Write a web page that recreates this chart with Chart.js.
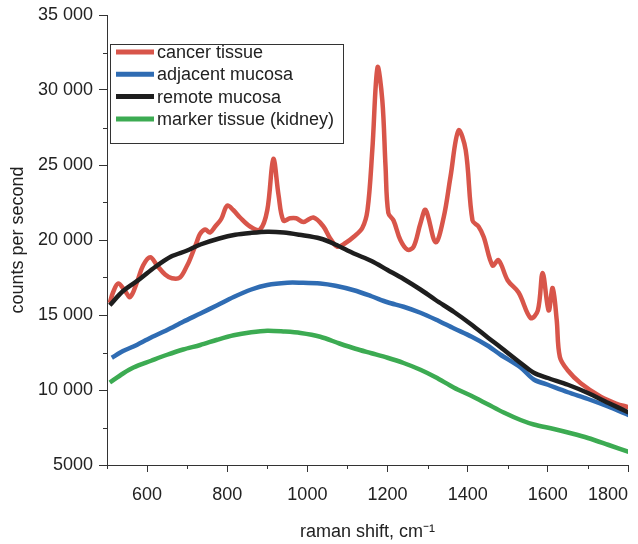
<!DOCTYPE html>
<html>
<head>
<meta charset="utf-8">
<script src="https://cdn.jsdelivr.net/npm/chart.js@4/dist/chart.umd.min.js"></script>
<style>
  html, body { margin: 0; padding: 0; background: #ffffff; }
  #wrap { width: 638px; height: 544px; position: relative; }
</style>
</head>
<body>
<div id="wrap"><canvas id="c" width="638" height="544"></canvas></div>
<script>
// ---- data ----
const seriesNames = ['cancer tissue', 'adjacent mucosa', 'remote mucosa', 'marker tissue (kidney)'];
const seriesColors = ['#d8554a', '#2f6cb3', '#1e1e1e', '#3cab52'];

const cancerX = [507, 515, 528, 545, 558, 575, 590, 608, 625, 645, 662, 682, 700, 707, 723, 732, 745, 757, 770, 785, 800, 815, 832, 857, 882, 900, 915, 928, 940, 957, 972, 990, 1015, 1040, 1057, 1075, 1095, 1115, 1137, 1150, 1162, 1175, 1187, 1195, 1202, 1215, 1232, 1250, 1265, 1282, 1295, 1320, 1340, 1357, 1377, 1395, 1412, 1427, 1440, 1462, 1477, 1500, 1527, 1557, 1575, 1587, 1602, 1612, 1622, 1630, 1650, 1682, 1732, 1770, 1802];
const cancerY = [15800, 16500, 17100, 16600, 16200, 17200, 18300, 18850, 18300, 17700, 17450, 17500, 18300, 18700, 19800, 20400, 20700, 20500, 20900, 21400, 22300, 22000, 21500, 20900, 20700, 22000, 25400, 23000, 21300, 21450, 21450, 21200, 21500, 20900, 20100, 19550, 19800, 20200, 20800, 22000, 26000, 31500, 29300, 24900, 21800, 21300, 20000, 19350, 19550, 21100, 22000, 19850, 21500, 24200, 27300, 26000, 21300, 20900, 20200, 18300, 18650, 17300, 16500, 14800, 15300, 17800, 15300, 16800, 14700, 12200, 11300, 10450, 9550, 9100, 8850];

const adjacentX = [512, 540, 566, 610, 650, 690, 733, 775, 816, 860, 900, 950, 983, 1032, 1070, 1116, 1160, 1200, 1240, 1282, 1320, 1366, 1410, 1450, 1482, 1532, 1565, 1600, 1650, 1700, 1750, 1802];
const adjacentY = [12150, 12600, 12900, 13500, 14000, 14550, 15100, 15650, 16200, 16700, 17000, 17150, 17150, 17100, 16950, 16650, 16250, 15850, 15550, 15150, 14700, 14100, 13550, 12950, 12350, 11500, 10700, 10350, 9850, 9400, 8900, 8330];

const remoteX = [507, 540, 582, 620, 660, 700, 733, 780, 820, 858, 900, 941, 980, 1032, 1070, 1116, 1160, 1200, 1240, 1282, 1320, 1366, 1410, 1450, 1482, 1532, 1565, 1600, 1650, 1700, 1750, 1802];
const remoteY = [15650, 16600, 17400, 18200, 18900, 19300, 19700, 20100, 20350, 20470, 20550, 20500, 20350, 20100, 19700, 19100, 18600, 18000, 17400, 16700, 16000, 15200, 14350, 13500, 12850, 11800, 11150, 10800, 10350, 9800, 9150, 8500];

const markerX = [507, 540, 566, 610, 650, 690, 733, 775, 816, 860, 900, 940, 983, 1032, 1080, 1120, 1160, 1200, 1240, 1282, 1320, 1366, 1410, 1450, 1490, 1532, 1565, 1615, 1660, 1700, 1750, 1802];
const markerY = [10500, 11100, 11500, 11950, 12350, 12700, 13000, 13350, 13650, 13850, 13950, 13900, 13800, 13550, 13100, 12750, 12450, 12150, 11800, 11350, 10850, 10150, 9600, 9050, 8500, 8000, 7700, 7400, 7100, 6800, 6350, 5870];

const xTickLabels = [600, 800, 1000, 1200, 1400, 1600, 1800];
const xMinorTicks = [500, 700, 900, 1100, 1300, 1500, 1700];
const yTickValues = [5000, 10000, 15000, 20000, 25000, 30000, 35000];
const yTickText = ['5000', '10 000', '15 000', '20 000', '25 000', '30 000', '35 000'];
const yMinorTicks = [7500, 12500, 17500, 22500, 27500, 32500];

// ---- build chart ----
function pts(xs, ys) { return xs.map((x, i) => ({ x: x, y: ys[i] })); }
const allX = [cancerX, adjacentX, remoteX, markerX];
const allY = [cancerY, adjacentY, remoteY, markerY];
const drawOrder = [1, 2, 0, 3];
const tensions = [0.35, 0.3, 0.3, 0.3];

const FONT = '"Liberation Sans", Arial, Helvetica, sans-serif';
const AXIS = '#333333';
const TEXT = '#222222';

const datasets = seriesNames.map((n, i) => ({
  label: n,
  data: pts(allX[i], allY[i]),
  borderColor: seriesColors[i],
  backgroundColor: seriesColors[i],
  borderWidth: 4.5,
  pointRadius: 0,
  tension: tensions[i],
  cubicInterpolationMode: 'default',
  fill: false,
  order: drawOrder[i]
}));

const minorTickPlugin = {
  id: 'minorTicks',
  afterDraw(chart) {
    const ctx = chart.ctx;
    const xs = chart.scales.x, ys = chart.scales.y;
    ctx.save();
    ctx.strokeStyle = AXIS;
    ctx.lineWidth = 1;
    ctx.beginPath();
    xMinorTicks.forEach(v => {
      const p = Math.round(xs.getPixelForValue(v)) + 0.5;
      ctx.moveTo(p, xs.top); ctx.lineTo(p, xs.top + 4);
    });
    yMinorTicks.forEach(v => {
      const p = Math.round(ys.getPixelForValue(v)) + 0.5;
      ctx.moveTo(ys.right, p); ctx.lineTo(ys.right - 4, p);
    });
    ctx.stroke();
    ctx.restore();
  }
};

const boxLegendPlugin = {
  id: 'boxLegend',
  afterDraw(chart) {
    const ctx = chart.ctx;
    const ca = chart.chartArea;
    const left = ca.left + 3, top = ca.top + 29, w = 233, h = 99;
    ctx.save();
    ctx.fillStyle = '#ffffff';
    ctx.fillRect(left, top, w, h);
    ctx.strokeStyle = '#333333';
    ctx.lineWidth = 1;
    ctx.strokeRect(Math.round(left) + 0.5, Math.round(top) + 0.5, w, h);
    ctx.font = '18px ' + FONT;
    ctx.textBaseline = 'middle';
    ctx.fillStyle = TEXT;
    chart.data.datasets.forEach((ds, i) => {
      const yc = top + 8 + i * 22.3;
      ctx.strokeStyle = ds.borderColor;
      ctx.lineWidth = 5;
      ctx.beginPath();
      ctx.moveTo(left + 6, yc); ctx.lineTo(left + 44, yc);
      ctx.stroke();
      ctx.fillStyle = TEXT;
      ctx.fillText(ds.label, left + 47, yc + 1);
    });
    ctx.restore();
  }
};

new Chart(document.getElementById('c'), {
  type: 'line',
  data: { datasets: datasets },
  options: {
    responsive: false,
    animation: false,
    layout: { padding: { left: 0, right: 10, top: 15, bottom: 0 } },
    plugins: { legend: { display: false }, tooltip: { enabled: false } },
    scales: {
      x: {
        type: 'linear',
        min: 500, max: 1800,
        border: { display: true, color: AXIS, width: 1 },
        grid: {
          display: true, drawOnChartArea: false, tickLength: 7,
          tickColor: ctx => (ctx.tick && xTickLabels.includes(ctx.tick.value)) ? AXIS : 'rgba(0,0,0,0)'
        },
        ticks: {
          stepSize: 100, autoSkip: false, maxRotation: 0, padding: 12, align: 'inner',
          color: TEXT, font: { family: FONT, size: 18 },
          callback: v => xTickLabels.includes(v) ? String(v) : ''
        },
        title: {
          display: true, text: 'raman shift, cm\u207B\u00B9', color: TEXT,
          font: { family: FONT, size: 18 }, padding: { top: 1, bottom: 1 }
        },
        afterFit: s => { s.height = 79; s.paddingLeft = 0; s.paddingRight = 0; }
      },
      y: {
        type: 'linear',
        min: 5000, max: 35000,
        border: { display: true, color: AXIS, width: 1 },
        grid: {
          display: true, drawOnChartArea: false, tickLength: 8,
          tickColor: ctx => (ctx.tick && yTickValues.includes(ctx.tick.value)) ? AXIS : 'rgba(0,0,0,0)'
        },
        ticks: {
          stepSize: 2500, autoSkip: false, padding: 6,
          color: TEXT, font: { family: FONT, size: 18 },
          callback: v => { const k = yTickValues.indexOf(v); return k >= 0 ? yTickText[k] : ''; }
        },
        title: {
          display: true, text: 'counts per second', color: TEXT,
          font: { family: FONT, size: 18 }, padding: { top: 7, bottom: 4 }
        },
        afterFit: s => { s.width = 107; s.paddingTop = 0; s.paddingBottom = 0; }
      }
    }
  },
  plugins: [minorTickPlugin, boxLegendPlugin]
});
</script>
</body>
</html>
